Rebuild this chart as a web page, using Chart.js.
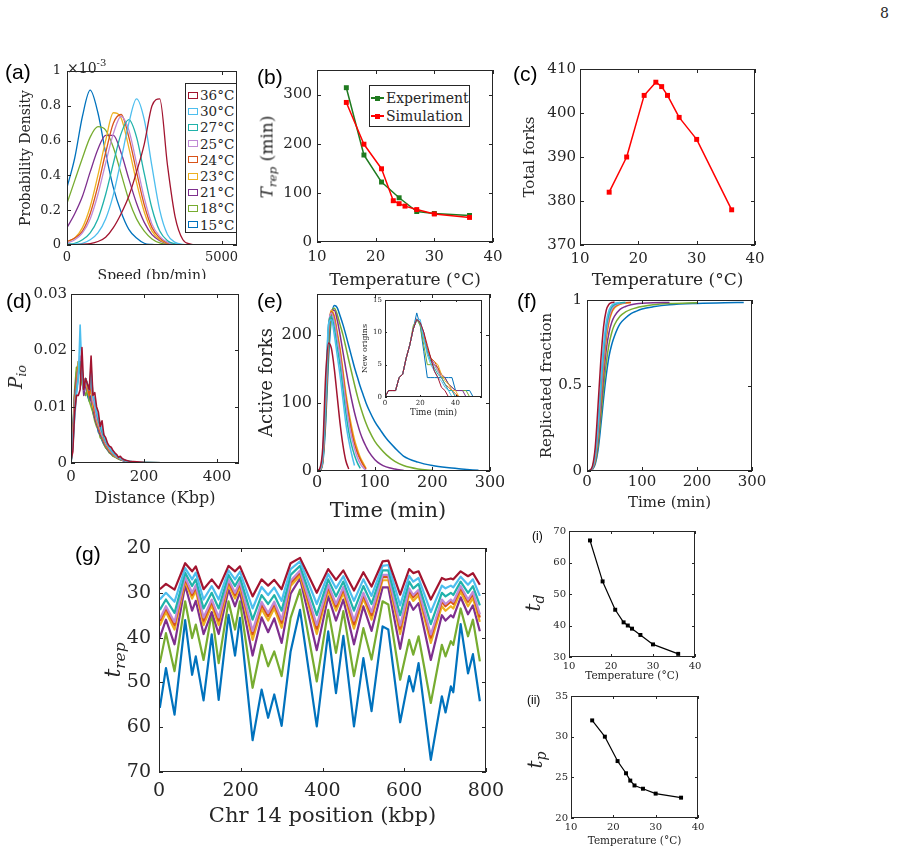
<!DOCTYPE html>
<html lang="es">
<head>
<meta charset="utf-8">
<title>Replicación y temperatura</title>
<script src="https://cdn.jsdelivr.net/npm/chart.js@4.4.1/dist/chart.umd.min.js"></script>
<style>
  html, body { margin: 0; padding: 0; background: #fff; }
  #lienzo { position: relative; width: 897px; height: 854px; overflow: hidden; font-family: "DejaVu Serif", serif; color: #262626; }
  #lienzo canvas { position: absolute; }
  .etq { position: absolute; z-index: 5; font-family: "Liberation Sans", Arial, sans-serif; font-size: 21px; line-height: 21px; color: #000; white-space: nowrap; }
  .etq.chica { font-size: 12px; line-height: 12px; }
  .rot { position: absolute; z-index: 5; white-space: nowrap; line-height: 1; font-weight: normal; transform: translate(-50%, -50%) rotate(-90deg); color: #262626; }
  .rot sub { font-size: 0.7em; vertical-align: -0.3em; line-height: 0; }
  .txt { position: absolute; z-index: 5; white-space: nowrap; line-height: 1; color: #262626; }
  .centro { transform: translate(-50%, -50%); }
  .leyenda { position: absolute; z-index: 5; background: #fff; border: 1px solid #262626; box-sizing: border-box; }
  #leyendaA { left: 185px; top: 83px; width: 52px; height: 150px; padding-top: 3px; }
  #leyendaA .fila { height: 16.2px; display: flex; align-items: center; font-size: 13.5px; }
  #leyendaA .icono { width: 8px; height: 5px; border: 1.5px solid; margin: 0 2px; background: #fff; }
  #leyendaB { left: 369px; top: 85px; width: 101px; height: 42px; padding-top: 3px; }
  #leyendaB .fila { height: 18px; display: flex; align-items: center; font-size: 14px; }
  #leyendaB .muestra { position: relative; width: 13px; height: 2px; margin: 0 2px 0 1px; }
  #leyendaB .muestra::after { content: ""; position: absolute; left: 4px; top: -1.5px; width: 5px; height: 5px; background: inherit; }
</style>
</head>
<body>
<div id="lienzo">
  <div class="txt" style="left:880px;top:6px;font-size:14px;">8</div>

  <div class="etq" style="left:5px;top:61px;">(a)</div>
  <div class="etq" style="left:257px;top:66px;">(b)</div>
  <div class="etq" style="left:513px;top:63px;">(c)</div>
  <div class="etq" style="left:6px;top:290px;">(d)</div>
  <div class="etq" style="left:257px;top:290px;">(e)</div>
  <div class="etq" style="left:517px;top:290px;">(f)</div>
  <div class="etq" style="left:75px;top:543px;">(g)</div>
  <div class="etq chica" style="left:532px;top:530px;">(i)</div>
  <div class="etq chica" style="left:527px;top:694px;">(ii)</div>

  <div class="txt" style="left:67px;top:58px;font-size:14px;">×10<sup style="font-size:10px;vertical-align:7px;">-3</sup></div>

  <div class="rot" style="left:267px;top:157px;font-size:17px;"><i>T</i><sub><i>rep</i></sub> (min)</div>
  <div class="rot" style="left:16px;top:377px;font-size:18px;"><i>P</i><sub><i>io</i></sub></div>
  <div class="rot" style="left:113px;top:660px;font-size:22px;"><i>t</i><sub><i>rep</i></sub></div>
  <div class="rot" style="left:533px;top:603px;font-size:20px;"><i>t</i><sub><i>d</i></sub></div>
  <div class="rot" style="left:535px;top:760px;font-size:20px;"><i>t</i><sub><i>p</i></sub></div>
  <div class="txt centro" style="left:388px;top:510px;font-size:21px;">Time (min)</div>

  <div id="leyendaA" class="leyenda"></div>
  <div id="leyendaB" class="leyenda"></div>
</div>

<script>
const SERIF = '"DejaVu Serif", serif';

// Temperaturas y colores (mismo orden en todos los paneles)
const temperaturas = ['36°C', '30°C', '27°C', '25°C', '24°C', '23°C', '21°C', '18°C', '15°C'];
const colores = ['#A2142F', '#4DBEEE', '#20B2AA', '#C08AD6', '#D95319', '#EDB120', '#7E2F8E', '#77AC30', '#0072BD'];

// Marcas de los ejes
const marcasVelocidad = [0, 5000];
const marcasDensidad = [0, 0.2, 0.4, 0.6, 0.8, 1];
const marcasTemperatura = [10, 20, 30, 40];
const marcasTrep = [0, 100, 200, 300];
const marcasHorquillas = [370, 380, 390, 400, 410];
const marcasDistancia = [0, 200, 400];
const marcasPio = [0, 0.01, 0.02, 0.03];
const marcasTiempo = [0, 100, 200, 300];
const marcasActivas = [0, 100, 200];
const marcasTiempoRecuadro = [0, 20, 40];
const marcasOrigenes = [0, 5, 10, 15];
const marcasFraccion = [0, 0.5, 1];
const marcasPosicion = [0, 200, 400, 600, 800];
const marcasTrepCromosoma = [20, 30, 40, 50, 60, 70];
const marcasTd = [30, 40, 50, 60, 70];
const marcasTp = [20, 25, 30, 35];

// (a) Velocidad de las horquillas (densidad x 1e-3)
const velocidad = [0, 250, 500, 750, 1000, 1250, 1500, 1750, 2000, 2250, 2500, 2750, 3000, 3250, 3500, 3750, 4000, 4250, 4500];
const densidad36 = [0, 0.002, 0.004, 0.008, 0.02, 0.045, 0.1, 0.18, 0.28, 0.42, 0.58, 0.8, 0.84, 0.46, 0.16, 0.03, 0.005, 0, 0];
const densidad30 = [0, 0.005, 0.01, 0.03, 0.07, 0.15, 0.29, 0.49, 0.7, 0.84, 0.72, 0.45, 0.2, 0.06, 0.015, 0.003, 0, 0, 0];
const densidad27 = [0.005, 0.01, 0.03, 0.07, 0.15, 0.29, 0.47, 0.64, 0.72, 0.62, 0.41, 0.21, 0.08, 0.025, 0.006, 0, 0, 0, 0];
const densidad25 = [0.01, 0.03, 0.07, 0.15, 0.29, 0.47, 0.64, 0.74, 0.66, 0.47, 0.27, 0.12, 0.05, 0.015, 0.003, 0, 0, 0, 0];
const densidad24 = [0.02, 0.04, 0.08, 0.18, 0.34, 0.53, 0.7, 0.75, 0.62, 0.42, 0.23, 0.1, 0.04, 0.012, 0, 0, 0, 0, 0];
const densidad23 = [0.02, 0.04, 0.1, 0.22, 0.4, 0.6, 0.76, 0.73, 0.56, 0.36, 0.19, 0.08, 0.03, 0.01, 0, 0, 0, 0, 0];
const densidad21 = [0.1, 0.18, 0.28, 0.42, 0.55, 0.63, 0.63, 0.53, 0.38, 0.24, 0.13, 0.06, 0.025, 0.008, 0, 0, 0, 0, 0];
const densidad18 = [0.24, 0.37, 0.5, 0.62, 0.68, 0.66, 0.56, 0.41, 0.26, 0.15, 0.08, 0.035, 0.012, 0.004, 0, 0, 0, 0, 0];
const densidad15 = [0.33, 0.5, 0.74, 0.89, 0.76, 0.53, 0.33, 0.19, 0.09, 0.04, 0.01, 0.003, 0, 0, 0, 0, 0, 0, 0];
const densidades = [densidad36, densidad30, densidad27, densidad25, densidad24, densidad23, densidad21, densidad18, densidad15];

// (b) Tiempo de replicación
const temperaturaExp = [15, 18, 21, 24, 27, 30, 36];
const trepExperimento = [314, 177, 122, 90, 62, 58, 54];
const temperaturaSim = [15, 18, 21, 23, 24, 25, 27, 30, 36];
const trepSimulacion = [284, 199, 149, 84, 78, 73, 66, 57, 50];

// (c) Horquillas totales
const horquillasTotales = [382, 390, 404, 407, 406, 404, 399, 394, 378];

// (d) Distancia entre orígenes
const distancia = [0, 5, 10, 15, 20, 25, 30, 35, 40, 45, 50, 55, 60, 65, 70, 75, 80, 85, 90, 95, 100, 105, 110, 115, 120, 125, 130, 135, 140, 145, 150, 160, 180, 200, 250, 300, 350, 400, 460];
const pio36 = [0.0005, 0.002, 0.009, 0.012, 0.012, 0.013, 0.0205, 0.013, 0.015, 0.014, 0.013, 0.019, 0.012, 0.0125, 0.01, 0.009, 0.0065, 0.0075, 0.005, 0.0045, 0.0035, 0.003, 0.0028, 0.0022, 0.0018, 0.0015, 0.001, 0.0012, 0.0008, 0.0006, 0.0005, 0.0003, 0.0002, 0.0001, 0.00003, 0.00001, 0, 0, 0];
const pio30 = [0, 0.003, 0.008, 0.012, 0.015, 0.0245, 0.016, 0.013, 0.015, 0.014, 0.013, 0.017, 0.012, 0.011, 0.009, 0.008, 0.007, 0.006, 0.005, 0.004, 0.0033, 0.0028, 0.0023, 0.0019, 0.0016, 0.0013, 0.001, 0.0009, 0.0007, 0.0006, 0.0004, 0.0003, 0.0001, 0.00007, 0.00002, 0, 0, 0, 0];
const pio27 = [0, 0.003, 0.009, 0.013, 0.015, 0.018, 0.017, 0.014, 0.015, 0.014, 0.013, 0.016, 0.012, 0.011, 0.009, 0.0075, 0.0065, 0.0055, 0.0046, 0.0038, 0.0032, 0.0027, 0.0022, 0.0018, 0.0015, 0.0012, 0.001, 0.0008, 0.0007, 0.0005, 0.0004, 0.0003, 0.0001, 0.00007, 0.00002, 0, 0, 0, 0];
const pio25 = [0, 0.004, 0.01, 0.013, 0.016, 0.019, 0.016, 0.013, 0.015, 0.014, 0.013, 0.015, 0.011, 0.01, 0.008, 0.007, 0.006, 0.005, 0.0044, 0.0035, 0.003, 0.0025, 0.0021, 0.0017, 0.0014, 0.0011, 0.001, 0.0008, 0.0006, 0.0005, 0.0004, 0.0002, 0.0001, 0.00006, 0.00002, 0, 0, 0, 0];
const pio24 = [0, 0.004, 0.01, 0.014, 0.017, 0.018, 0.015, 0.014, 0.015, 0.014, 0.012, 0.014, 0.011, 0.009, 0.008, 0.007, 0.0055, 0.005, 0.0042, 0.0034, 0.0028, 0.0024, 0.002, 0.0016, 0.0013, 0.0011, 0.0009, 0.0008, 0.0006, 0.0005, 0.0004, 0.0002, 0.0001, 0.00006, 0.00002, 0, 0, 0, 0];
const pio23 = [0, 0.004, 0.011, 0.014, 0.018, 0.017, 0.016, 0.014, 0.015, 0.013, 0.012, 0.013, 0.01, 0.009, 0.0075, 0.0065, 0.0055, 0.0048, 0.004, 0.0032, 0.0027, 0.0022, 0.0019, 0.0015, 0.0012, 0.001, 0.0009, 0.0007, 0.0006, 0.0005, 0.0004, 0.0002, 0.0001, 0.00006, 0.00002, 0, 0, 0, 0];
const pio21 = [0, 0.005, 0.012, 0.015, 0.017, 0.018, 0.016, 0.012, 0.014, 0.013, 0.012, 0.011, 0.01, 0.008, 0.007, 0.006, 0.005, 0.0045, 0.0036, 0.003, 0.0025, 0.002, 0.0017, 0.0014, 0.0012, 0.001, 0.0008, 0.0007, 0.0005, 0.0004, 0.0003, 0.0002, 0.0001, 0.00005, 0.00002, 0, 0, 0, 0];
const pio18 = [0, 0.006, 0.013, 0.017, 0.016, 0.018, 0.014, 0.013, 0.012, 0.013, 0.011, 0.01, 0.009, 0.0075, 0.0065, 0.006, 0.0045, 0.0042, 0.0034, 0.0027, 0.0024, 0.0018, 0.0016, 0.0012, 0.0011, 0.0009, 0.0007, 0.0006, 0.0005, 0.0004, 0.0003, 0.0002, 0.0001, 0.00005, 0.00002, 0, 0, 0, 0];
const pio15 = [0, 0.005, 0.012, 0.016, 0.018, 0.016, 0.015, 0.013, 0.014, 0.012, 0.011, 0.012, 0.009, 0.008, 0.007, 0.0055, 0.005, 0.004, 0.0033, 0.0028, 0.0023, 0.0019, 0.0016, 0.0013, 0.0011, 0.0009, 0.0008, 0.0006, 0.0005, 0.0004, 0.0003, 0.0002, 0.0001, 0.00006, 0.00002, 0, 0, 0, 0];
const probabilidades = [pio36, pio30, pio27, pio25, pio24, pio23, pio21, pio18, pio15];

// (e) Horquillas activas
const tiempoE = [0, 5, 10, 15, 20, 25, 30, 35, 40, 45, 50, 55, 60, 65, 70, 75, 80, 85, 90, 100, 110, 120, 135, 150, 175, 200, 225, 250, 280];
const activas36 = [0, 4, 35, 140, 188, 180, 150, 110, 70, 38, 15, 3, null, null, null, null, null, null, null, null, null, null, null, null, null, null, null, null, null];
const activas30 = [0, 3, 25, 118, 216, 222, 200, 170, 140, 105, 70, 45, 25, 8, null, null, null, null, null, null, null, null, null, null, null, null, null, null, null];
const activas27 = [0, 3, 22, 110, 214, 227, 210, 182, 155, 120, 85, 58, 38, 23, 12, 4, null, null, null, null, null, null, null, null, null, null, null, null, null];
const activas25 = [0, 2, 20, 105, 210, 232, 220, 195, 168, 134, 100, 72, 50, 33, 20, 11, 5, 1, null, null, null, null, null, null, null, null, null, null, null];
const activas24 = [0, 2, 19, 102, 207, 234, 225, 200, 175, 142, 108, 82, 58, 40, 27, 17, 9, 3, null, null, null, null, null, null, null, null, null, null, null];
const activas23 = [0, 2, 18, 100, 205, 236, 228, 205, 180, 148, 115, 88, 65, 46, 32, 20, 12, 4, null, null, null, null, null, null, null, null, null, null, null];
const activas21 = [0, 2, 16, 90, 195, 236, 236, 222, 200, 175, 150, 126, 105, 86, 70, 56, 45, 36, 28, 17, 10, 6, 3, 1, null, null, null, null, null];
const activas18 = [0, 1, 14, 80, 180, 232, 239, 230, 215, 200, 182, 163, 145, 127, 110, 95, 82, 70, 60, 44, 33, 24, 14, 8, 3, 1, null, null, null];
const activas15 = [0, 1, 12, 70, 165, 225, 243, 240, 228, 215, 200, 184, 168, 152, 138, 124, 112, 100, 90, 73, 60, 48, 34, 22, 13, 8, 5, 3, 1];
const horquillasActivas = [activas36, activas30, activas27, activas25, activas24, activas23, activas21, activas18, activas15];

// (e, recuadro) Orígenes nuevos
const tiempoRecuadro = [0, 2, 4, 6, 8, 10, 12, 14, 16, 18, 20, 22, 24, 26, 28, 30, 32, 34, 36, 38, 40, 42, 44, 46, 48, 50];
const nuevos36 = [0, 1, 1, 1, 3, 3.5, 6, 8, 10.5, 12, 11.5, 10, 8, 6, 4, 3, 1.5, 1, 0, null, null, null, null, null, null, null];
const nuevos30 = [0, 1, 1, 1, 3, 3.5, 6, 8, 10.5, 12, 12, 9, 6.5, 5, 4, 3, 2.5, 1.5, 1, 0, null, null, null, null, null, null];
const nuevos27 = [0, 1, 1, 1, 3, 3.5, 6, 8, 10.5, 12, 11.5, 9, 7, 5.5, 4.5, 3.5, 3, 2, 1, 1, 0, null, null, null, null, null];
const nuevos25 = [0, 1, 1, 1, 3, 3.5, 6, 8, 10.5, 12, 11.5, 9, 7, 5.5, 5, 4, 3, 2, 1, 1, 0, null, null, null, null, null];
const nuevos24 = [0, 1, 1, 1, 3, 3.5, 6, 8, 10.5, 12, 11.5, 9.5, 7.5, 6, 5.5, 4.5, 3, 2, 1.5, 1, 0.5, 0, null, null, null, null];
const nuevos23 = [0, 1, 1, 1, 3, 3.5, 6, 8, 10.5, 12, 11.5, 9.5, 7.5, 6, 5.5, 5, 3.5, 2.5, 2, 1, 1, 0, null, null, null, null];
const nuevos21 = [0, 1, 1, 1, 3, 3.5, 6, 8, 10.5, 12, 11.5, 10, 7, 6, 5, 4.5, 3.5, 3, 2, 1.5, 1, 1, 1, 0, null, null];
const nuevos18 = [0, 1, 1, 1, 3, 3.5, 6, 8, 11, 12, 11, 8, 5, 5, 5, 4, 3, 3, 2, 1.5, 1, 1, 1, 1, 0, null];
const nuevos15 = [0, 1, 1, 1, 3, 3.5, 6, 8, 10.5, 13, 11, 7, 3, 3, 3, 3, 3, 3, 3, 3, 1, 1, 1, 1, 1, 0];
const origenesNuevos = [nuevos36, nuevos30, nuevos27, nuevos25, nuevos24, nuevos23, nuevos21, nuevos18, nuevos15];

// (f) Fracción replicada
const tiempoF = [0, 5, 10, 15, 20, 25, 30, 35, 40, 45, 50, 60, 70, 80, 90, 100, 120, 150, 200, 250, 285];
const fraccion36 = [0, 0.004, 0.03, 0.14, 0.38, 0.64, 0.84, 0.94, 0.975, 0.985, 0.988, null, null, null, null, null, null, null, null, null, null];
const fraccion30 = [0, 0.003, 0.022, 0.1, 0.28, 0.52, 0.73, 0.87, 0.94, 0.97, 0.98, 0.986, null, null, null, null, null, null, null, null, null];
const fraccion27 = [0, 0.003, 0.02, 0.09, 0.25, 0.48, 0.69, 0.84, 0.92, 0.958, 0.973, 0.983, 0.986, null, null, null, null, null, null, null, null];
const fraccion25 = [0, 0.002, 0.018, 0.08, 0.23, 0.45, 0.66, 0.81, 0.9, 0.945, 0.965, 0.98, 0.985, null, null, null, null, null, null, null, null];
const fraccion24 = [0, 0.002, 0.017, 0.075, 0.22, 0.43, 0.63, 0.79, 0.885, 0.935, 0.96, 0.978, 0.984, 0.985, null, null, null, null, null, null, null];
const fraccion23 = [0, 0.002, 0.016, 0.07, 0.21, 0.41, 0.61, 0.77, 0.87, 0.925, 0.953, 0.975, 0.982, 0.985, null, null, null, null, null, null, null];
const fraccion21 = [0, 0.001, 0.014, 0.06, 0.18, 0.36, 0.55, 0.71, 0.81, 0.87, 0.905, 0.945, 0.962, 0.972, 0.978, 0.981, 0.984, 0.985, null, null, null];
const fraccion18 = [0, 0.001, 0.012, 0.05, 0.15, 0.31, 0.48, 0.63, 0.74, 0.81, 0.855, 0.905, 0.93, 0.945, 0.955, 0.962, 0.972, 0.979, 0.984, null, null];
const fraccion15 = [0, 0.001, 0.01, 0.04, 0.12, 0.26, 0.42, 0.56, 0.67, 0.74, 0.79, 0.86, 0.895, 0.92, 0.935, 0.947, 0.96, 0.972, 0.98, 0.984, 0.985];
const fracciones = [fraccion36, fraccion30, fraccion27, fraccion25, fraccion24, fraccion23, fraccion21, fraccion18, fraccion15];

// (g) Tiempo de replicación a lo largo del cromosoma 14
const posicion = [2, 17, 38, 64, 81, 90, 109, 129, 146, 170, 186, 198, 229, 251, 267, 282, 300, 322, 345, 386, 414, 433, 451, 477, 500, 520, 547, 561, 590, 612, 622, 635, 665, 692, 701, 714, 720, 738, 756, 768, 785];
const trep36 = [29.2, 28, 29.3, 23.4, 25.2, 24.1, 29.2, 27, 29, 24, 25.2, 24.1, 30.8, 27, 28.4, 27.1, 29.2, 23.4, 22.2, 30, 24.7, 27.1, 25, 29.5, 25.4, 28.6, 23, 22.8, 30.4, 24.7, 25.6, 25.2, 31.5, 26.7, 27.1, 26.8, 27, 25.2, 26.3, 25.6, 28.2];
const trep30 = [31.5, 30, 32, 24.5, 27, 25.5, 31.5, 28.5, 31.5, 25, 27, 25.3, 33.5, 28.7, 30.5, 28.8, 31.8, 24.7, 23, 32.5, 25.8, 29, 26.3, 31.8, 27, 30.7, 24, 23.8, 32.8, 26.2, 27.5, 26.7, 34.3, 28.4, 29, 28.4, 28.8, 26.4, 28.2, 27, 30.7];
const trep27 = [33.8, 31.5, 34.5, 25.5, 28.5, 27, 33.5, 30, 33.5, 26, 28.5, 26.5, 36, 30.5, 32.5, 30.5, 34, 26, 24, 35, 27, 30.8, 27.5, 34, 28.5, 32.5, 25, 25, 35, 27.5, 29, 28, 37, 30, 30.8, 30, 30.5, 27.5, 30, 28.5, 32.8];
const trep25 = [35.8, 33, 36.5, 26.5, 30, 28.3, 35.5, 31.5, 35.5, 27, 30, 27.5, 38.5, 32, 34.5, 32, 36, 27.3, 25, 37.2, 28.2, 32.5, 28.7, 36.2, 30, 34.3, 26, 26, 37.3, 29, 30.5, 29.3, 39.3, 31.5, 32.5, 31.5, 32, 28.5, 31.5, 29.8, 34.8];
const trep24 = [36.3, 33.5, 37.2, 27, 30.5, 28.8, 36.2, 32, 36.2, 27.5, 30.5, 28, 39.2, 32.7, 35.2, 32.6, 36.7, 27.8, 25.5, 38, 28.7, 33.1, 29.2, 37, 30.5, 35, 26.5, 26.5, 38, 29.5, 31, 29.8, 40, 32, 33, 32, 32.5, 29, 32, 30.3, 35.5];
const trep23 = [37.3, 34.3, 38.2, 27.5, 31.3, 29.5, 37.2, 32.8, 37.2, 28.2, 31.3, 28.7, 40.5, 33.6, 36.2, 33.5, 37.8, 28.5, 26.2, 39.2, 29.5, 34, 30, 38, 31.3, 36, 27.2, 27.2, 39.2, 30.3, 31.8, 30.6, 41.2, 33, 34, 33, 33.5, 29.8, 33, 31.2, 36.5];
const trep21 = [40, 36, 41.5, 28.3, 34, 31.8, 39.2, 34.3, 39.2, 29.3, 33, 29.8, 44, 35.5, 38.8, 35.7, 41.2, 30.2, 26.8, 42.8, 30.8, 36.2, 31.5, 41.5, 33, 38.5, 28.8, 28.8, 42.5, 32, 33.8, 32.3, 45, 35, 36.2, 35, 35.5, 31, 34.8, 32.8, 38.6];
const trep18 = [45.7, 39, 47.5, 31.9, 40.1, 37.1, 45, 34.5, 45.7, 31.9, 38.2, 31.9, 51.2, 41.6, 46.4, 43.1, 48.6, 35.6, 29.3, 49.8, 33.8, 43.4, 34.1, 48.6, 37.9, 44.9, 31.9, 32.6, 49.4, 40.5, 43.8, 39.7, 54.6, 41.6, 44.2, 40.8, 41.6, 33.5, 39.7, 36, 45.3];
const trep15 = [55.7, 46.8, 57.2, 36.1, 48.3, 44.2, 54, 39.3, 53.9, 34.9, 44, 35.6, 62.9, 51.6, 57.9, 52.7, 59.7, 43.1, 33.8, 59.8, 38.6, 52.4, 39.6, 59.8, 44.6, 56.4, 37.5, 38.2, 58.9, 48.6, 52, 45.7, 67.3, 53.1, 56.7, 50.9, 52.2, 37, 48, 43.7, 54.2];
const tiemposReplicacion = [trep36, trep30, trep27, trep25, trep24, trep23, trep21, trep18, trep15];

// (i), (ii)
const tiempoD = [67, 54, 45, 41, 40, 39, 37, 34, 31];
const tiempoP = [32, 30, 27, 25.5, 24.6, 24, 23.6, 23, 22.5];

// Caja estilo MATLAB con marcas hacia dentro
const cajaMatlab = {
    id: 'cajaMatlab',
    beforeDatasetsDraw(chart, args, opc) {
        if (!opc.fondo) return;
        const a = chart.chartArea;
        chart.ctx.save();
        chart.ctx.fillStyle = opc.fondo;
        chart.ctx.fillRect(a.left, a.top, a.width, a.height);
        chart.ctx.restore();
    },
    afterDraw(chart, args, opc) {
        const { ctx, chartArea: a, scales } = chart;
        const largo = opc.largo || 4;
        ctx.save();
        ctx.strokeStyle = '#262626';
        ctx.lineWidth = 1;
        ctx.beginPath();
        scales.x.ticks.forEach(t => {
            const px = Math.round(scales.x.getPixelForValue(t.value)) + 0.5;
            ctx.moveTo(px, a.bottom); ctx.lineTo(px, a.bottom - largo);
            ctx.moveTo(px, a.top); ctx.lineTo(px, a.top + largo);
        });
        scales.y.ticks.forEach(t => {
            const py = Math.round(scales.y.getPixelForValue(t.value)) + 0.5;
            ctx.moveTo(a.left, py); ctx.lineTo(a.left + largo, py);
            ctx.moveTo(a.right, py); ctx.lineTo(a.right - largo, py);
        });
        ctx.stroke();
        ctx.strokeRect(Math.round(a.left) + 0.5, Math.round(a.top) + 0.5, Math.round(a.width) - 1, Math.round(a.height) - 1);
        ctx.restore();
    }
};

function eje(pos, e, margen) {
    return {
        type: 'linear',
        position: pos,
        min: e.min,
        max: e.max,
        reverse: !!e.invertido,
        afterBuildTicks(s) { s.ticks = e.marcas.map(v => ({ value: v })); },
        ticks: {
            autoSkip: false,
            maxRotation: 0,
            minRotation: 0,
            padding: e.relleno,
            color: '#262626',
            font: { family: SERIF, size: e.tam },
            callback: v => String(Math.round(v * 1e6) / 1e6)
        },
        grid: { display: false, drawTicks: false },
        border: { display: false },
        title: e.titulo
            ? { display: true, text: e.titulo, color: '#262626', padding: 0, font: { family: SERIF, size: e.tamTitulo } }
            : { display: false },
        afterFit(s) {
            if (pos === 'left') s.width = margen; else s.height = margen;
            s.paddingLeft = 0; s.paddingRight = 0; s.paddingTop = 0; s.paddingBottom = 0;
        }
    };
}

function serie(xs, ys, color, grosor, extra) {
    return Object.assign({
        data: xs.map((x, i) => ({ x: x, y: ys[i] })),
        borderColor: color,
        backgroundColor: color,
        borderWidth: grosor,
        borderJoinStyle: 'round',
        pointRadius: 0,
        tension: 0,
        fill: false
    }, extra || {});
}

function crearPanel(cfg) {
    const c = cfg.caja;
    const lienzo = document.createElement('canvas');
    lienzo.width = c.mi + (c.R - c.L) + c.md;
    lienzo.height = c.ms + (c.B - c.T) + c.mb;
    lienzo.style.left = (c.L - c.mi) + 'px';
    lienzo.style.top = (c.T - c.ms) + 'px';
    if (cfg.fondoBlanco) lienzo.style.background = '#fff';
    document.getElementById('lienzo').appendChild(lienzo);
    return new Chart(lienzo.getContext('2d'), {
        type: 'line',
        data: { datasets: cfg.series },
        options: {
            responsive: false,
            animation: false,
            events: [],
            layout: { padding: { top: c.ms, right: c.md, left: 0, bottom: 0 } },
            plugins: {
                legend: { display: false },
                tooltip: { enabled: false },
                cajaMatlab: { largo: cfg.largo || 4, fondo: cfg.fondo }
            },
            scales: { x: eje('bottom', cfg.x, c.mb), y: eje('left', cfg.y, c.mi) }
        },
        plugins: [cajaMatlab]
    });
}

const suave = { cubicInterpolationMode: 'monotone' };
const cuadrado = (color, r) => ({ pointStyle: 'rect', pointRadius: r || 3.5, pointBackgroundColor: color, pointBorderWidth: 0 });

// (a)
crearPanel({
    caja: { L: 67, T: 71, R: 237, B: 245, mi: 49, ms: 12, md: 10, mb: 40 },
    x: { min: 0, max: 5500, marcas: marcasVelocidad, tam: 13, relleno: 5, titulo: 'Speed (bp/min)', tamTitulo: 14 },
    y: { min: 0, max: 1, marcas: marcasDensidad, tam: 13, relleno: 6, titulo: 'Probability Density', tamTitulo: 14 },
    series: densidades.map((d, i) => serie(velocidad, d, colores[i], 1.3, suave))
});

// (b)
crearPanel({
    caja: { L: 317, T: 70, R: 493, B: 242, mi: 40, ms: 10, md: 10, mb: 49 },
    x: { min: 10, max: 40, marcas: marcasTemperatura, tam: 15, relleno: 6, titulo: 'Temperature (°C)', tamTitulo: 17 },
    y: { min: 0, max: 350, marcas: marcasTrep, tam: 15, relleno: 5 },
    series: [
        serie(temperaturaSim, trepSimulacion, '#FF0000', 1.5, cuadrado('#FF0000')),
        serie(temperaturaExp, trepExperimento, '#1F7A1F', 1.5, cuadrado('#1F7A1F'))
    ]
});

// (c)
crearPanel({
    caja: { L: 580, T: 69, R: 755, B: 245, mi: 59, ms: 10, md: 15, mb: 46 },
    x: { min: 10, max: 40, marcas: marcasTemperatura, tam: 15, relleno: 5, titulo: 'Temperature (°C)', tamTitulo: 17 },
    y: { min: 370, max: 410, marcas: marcasHorquillas, tam: 15, relleno: 4, titulo: 'Total forks', tamTitulo: 15 },
    series: [serie(temperaturaSim, horquillasTotales, '#FF0000', 1.5, cuadrado('#FF0000'))]
});

// (d)
crearPanel({
    caja: { L: 71, T: 294, R: 239, B: 463, mi: 50, ms: 15, md: 12, mb: 45 },
    fondoBlanco: true,
    x: { min: 0, max: 460, marcas: marcasDistancia, tam: 15, relleno: 5, titulo: 'Distance (Kbp)', tamTitulo: 16 },
    y: { min: 0, max: 0.03, marcas: marcasPio, tam: 15, relleno: 4 },
    series: probabilidades.map((p, i) => serie(distancia, p, colores[i], 1.6))
});

// (e)
crearPanel({
    caja: { L: 317, T: 294, R: 490, B: 471, mi: 60, ms: 10, md: 14, mb: 51 },
    x: { min: 0, max: 300, marcas: marcasTiempo, tam: 16, relleno: 2 },
    y: { min: 0, max: 260, marcas: marcasActivas, tam: 16, relleno: 5, titulo: 'Active forks', tamTitulo: 18 },
    series: horquillasActivas.map((h, i) => serie(tiempoE, h, colores[i], 1.5, suave))
});

// (e) recuadro
crearPanel({
    caja: { L: 385, T: 300, R: 482, B: 397, mi: 25, ms: 6, md: 5, mb: 21 },
    fondo: '#fff',
    largo: 2,
    x: { min: 0, max: 55, marcas: marcasTiempoRecuadro, tam: 7, relleno: 2, titulo: 'Time (min)', tamTitulo: 8.5 },
    y: { min: 0, max: 15, marcas: marcasOrigenes, tam: 7, relleno: 3, titulo: 'New origins', tamTitulo: 8 },
    series: origenesNuevos.map((o, i) => serie(tiempoRecuadro, o, colores[i], 1))
});

// (f)
crearPanel({
    caja: { L: 587, T: 300, R: 752, B: 471, mi: 49, ms: 10, md: 16, mb: 41 },
    x: { min: 0, max: 300, marcas: marcasTiempo, tam: 15, relleno: 2, titulo: 'Time (min)', tamTitulo: 15 },
    y: { min: 0, max: 1, marcas: marcasFraccion, tam: 15, relleno: 5, titulo: 'Replicated fraction', tamTitulo: 15 },
    series: fracciones.map((f, i) => serie(tiempoF, f, colores[i], 1.5, suave))
});

// (g)
crearPanel({
    caja: { L: 159, T: 548, R: 486, B: 772, mi: 60, ms: 14, md: 22, mb: 57 },
    x: { min: 0, max: 800, marcas: marcasPosicion, tam: 19, relleno: 8, titulo: 'Chr 14 position (kbp)', tamTitulo: 21 },
    y: { min: 20, max: 70, marcas: marcasTrepCromosoma, tam: 19, relleno: 8, invertido: true },
    series: tiemposReplicacion.map((t, i) => serie(posicion, t, colores[i], 2.2))
});

// (i)
crearPanel({
    caja: { L: 569, T: 531, R: 695, B: 657, mi: 30, ms: 8, md: 10, mb: 26 },
    largo: 3,
    x: { min: 10, max: 40, marcas: marcasTemperatura, tam: 10, relleno: 3, titulo: 'Temperature (°C)', tamTitulo: 10.5 },
    y: { min: 30, max: 70, marcas: marcasTd, tam: 10, relleno: 3 },
    series: [serie(temperaturaSim, tiempoD, '#000', 1.2, cuadrado('#000', 2.8))]
});

// (ii)
crearPanel({
    caja: { L: 571, T: 696, R: 698, B: 818, mi: 30, ms: 8, md: 10, mb: 30 },
    largo: 3,
    x: { min: 10, max: 40, marcas: marcasTemperatura, tam: 10, relleno: 3, titulo: 'Temperature (°C)', tamTitulo: 10.5 },
    y: { min: 20, max: 35, marcas: marcasTp, tam: 10, relleno: 3 },
    series: [serie(temperaturaSim, tiempoP, '#000', 1.2, cuadrado('#000', 2.8))]
});

// Leyendas
const leyendaA = document.getElementById('leyendaA');
temperaturas.forEach((t, i) => {
    leyendaA.innerHTML += `<div class="fila"><span class="icono" style="border-color:${colores[i]}"></span>${t}</div>`;
});
const leyendaB = document.getElementById('leyendaB');
[['Experiment', '#1F7A1F'], ['Simulation', '#FF0000']].forEach(([nombre, color]) => {
    leyendaB.innerHTML += `<div class="fila"><span class="muestra" style="background:${color}"></span>${nombre}</div>`;
});
</script>
</body>
</html>
